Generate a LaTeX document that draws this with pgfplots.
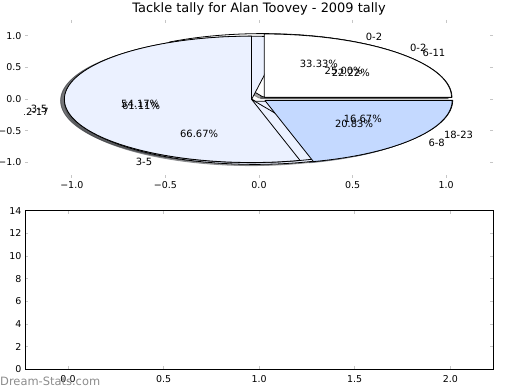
\documentclass[border=0pt]{standalone}
\usepackage{pgfplots}
\pgfplotsset{compat=1.18}
\usepackage{fontspec}
\setmainfont{DejaVu Sans}

\definecolor{pl}{RGB}{235,241,255}
\definecolor{pb}{RGB}{196,217,255}
\definecolor{sw}{rgb}{0.3,0.3,0.3}
\definecolor{sl}{rgb}{0.276,0.284,0.3}
\definecolor{sb}{rgb}{0.231,0.255,0.3}
\definecolor{wm}{RGB}{140,140,140}

% wedge: start angle, end angle, centre x, centre y, fill colour
\newcommand{\pwedge}[5]{\addplot[draw=black, line width=0.8bp, line join=round, fill=#5, domain=#1:#2, samples=90, variable=\t] ({#3+cos(\t)},{#4+sin(\t)}) -- (#3,#4) -- cycle;}
% shadow of a wedge: offset (-0.02,-0.02), 0.3 x face colour, alpha 0.5
\newcommand{\pshadow}[5]{\addplot[draw=#5, fill=#5, opacity=0.5, line width=0.8bp, domain=#1:#2, samples=90, variable=\t] ({#3-0.02+cos(\t)},{#4-0.02+sin(\t)}) -- ({#3-0.02},{#4-0.02}) -- cycle;}

\begin{document}
\begin{tikzpicture}
\useasboundingbox (0,0) rectangle (520bp,390bp);
\begin{axis}[
  at={(25bp,212bp)}, anchor=south west, scale only axis,
  width=468bp, height=158bp,
  xmin=-1.25, xmax=1.25, ymin=-1.25, ymax=1.25,
  axis line style={draw=none},
  tick style={draw=gray!45, line width=0.8bp},
  major tick length=3bp, tick align=inside,
  xtick={-1,-0.5,0,0.5,1}, xticklabels={−1.0,−0.5,0.0,0.5,1.0},
  ytick={-1,-0.5,0,0.5,1}, yticklabels={−1.0,−0.5,0.0,0.5,1.0},
  ticklabel style={font=\fontsize{9.5}{11}\selectfont},
]
% shadows (drawn beneath all wedges)
% pie A: 33.33 / 66.67
\pshadow{0}{120}{0.02}{0.03464}{sw}
\pshadow{120}{360}{-0.02}{-0.03464}{sl}
% pie C: 22.22 / 61.11 / 16.67
\pshadow{0}{80}{0.03064}{0.02571}{sw}
\pshadow{80}{300}{-0.03939}{-0.00695}{sl}
\pshadow{300}{360}{0.03464}{-0.02}{sb}
% pie B: 25.00 / 54.17 / 20.83
\pshadow{0}{90}{0.02828}{0.02828}{sw}
\pshadow{90}{285.01}{-0.03966}{-0.00522}{sl}
\pshadow{285.01}{360}{0.03173}{-0.02435}{sb}
% wedges
\pwedge{0}{120}{0.02}{0.03464}{white}
\pwedge{120}{360}{-0.02}{-0.03464}{pl}
\pwedge{0}{80}{0.03064}{0.02571}{white}
\pwedge{80}{300}{-0.03939}{-0.00695}{pl}
\pwedge{300}{360}{0.03464}{-0.02}{pb}
\pwedge{0}{90}{0.02828}{0.02828}{white}
\pwedge{90}{285.01}{-0.03966}{-0.00522}{pl}
\pwedge{285.01}{360}{0.03173}{-0.02435}{pb}
% labels
\begin{scope}[font=\fontsize{10}{12}\selectfont, inner sep=0pt]
\node[anchor=west] at (0.570,0.987) {0-2};
\node[anchor=east] at (-0.570,-0.987) {3-5};
\node at (0.320,0.554) {33.33\%};
\node at (-0.320,-0.554) {66.67\%};
\node[anchor=west] at (0.8733,0.7328) {6-11};
\node[anchor=east] at (-1.1227,-0.198) {12-17};
\node[anchor=west] at (0.9873,-0.570) {18-23};
\node at (0.4903,0.4114) {22.22\%};
\node at (-0.6303,-0.1111) {61.11\%};
\node at (0.5543,-0.320) {16.67\%};
\node[anchor=west] at (0.806,0.806) {0-2};
\node[anchor=east] at (-1.130,-0.1488) {3-5};
\node[anchor=west] at (0.9044,-0.694) {6-8};
\node at (0.4525,0.4525) {25.00\%};
\node at (-0.6345,-0.0835) {54.17\%};
\node at (0.5077,-0.3896) {20.83\%};
\end{scope}
\end{axis}

\begin{axis}[
  at={(25bp,20.7bp)}, anchor=south west, scale only axis,
  width=468.3bp, height=158.6bp,
  xmin=-0.225, xmax=2.225, ymin=0, ymax=14,
  axis line style={draw=black, line width=0.8bp},
  tick style={draw=gray!45, line width=0.8bp},
  major tick length=3bp, tick align=inside,
  xtick={0,0.5,1,1.5,2}, xticklabels={0.0,0.5,1.0,1.5,2.0},
  ytick={0,2,4,6,8,10,12,14}, yticklabels={0,2,4,6,8,10,12,14},
  ticklabel style={font=\fontsize{9.5}{11}\selectfont},
  xticklabel style={yshift=-3bp},
]
\end{axis}
\node[anchor=base, inner sep=0pt, font=\fontsize{13}{15}\selectfont] at (259bp,377bp) {Tackle tally for Alan Toovey - 2009 tally};
\node[anchor=base west, inner sep=0pt, text=wm, font=\fontsize{11.5}{13}\selectfont] at (0bp,4.5bp) {Dream-Stats.com};
\end{tikzpicture}
\end{document}
